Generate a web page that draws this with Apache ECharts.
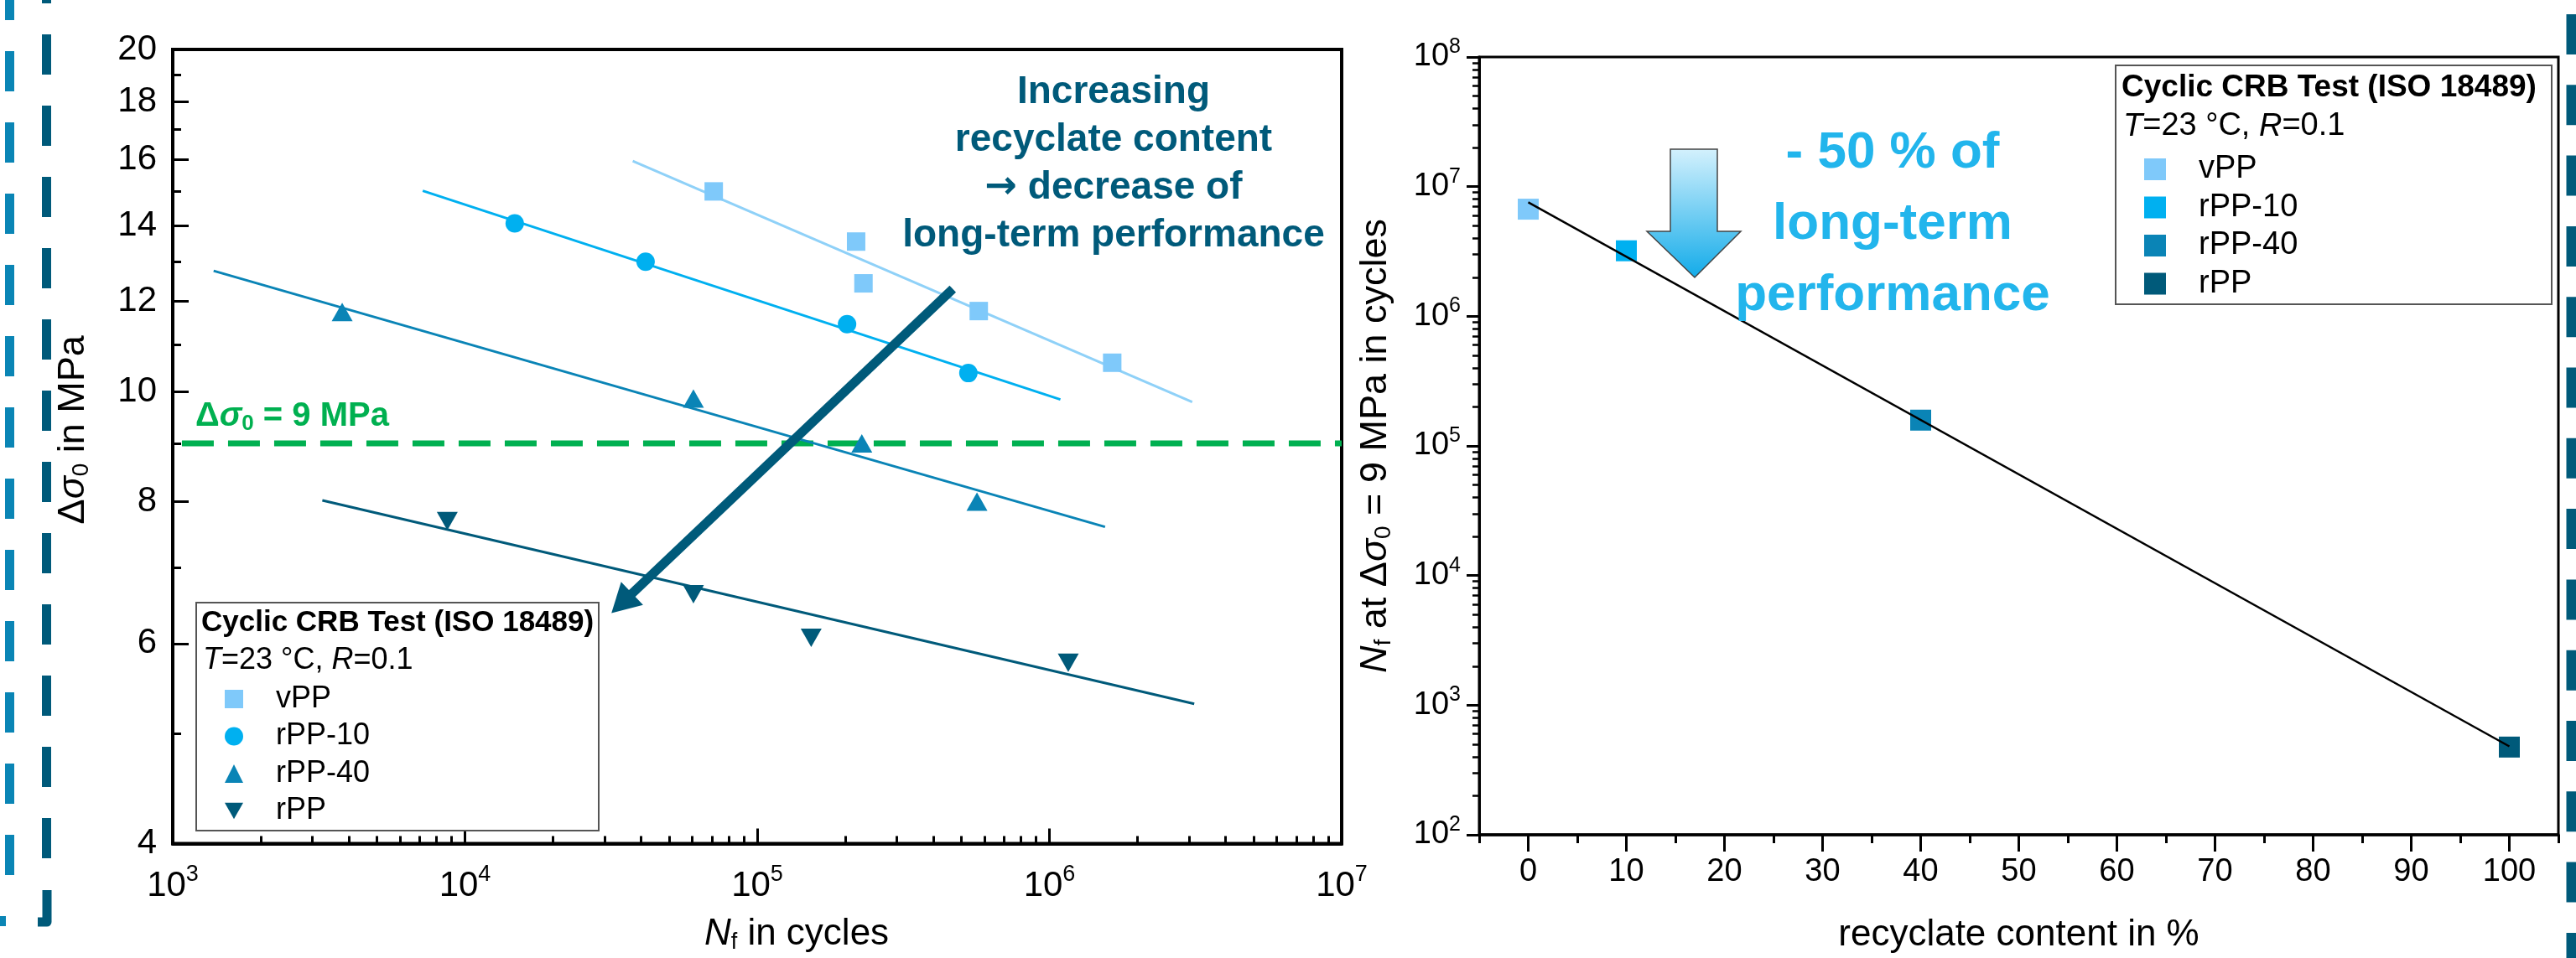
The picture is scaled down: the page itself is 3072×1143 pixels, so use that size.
<!DOCTYPE html>
<html><head><meta charset="utf-8">
<script src="https://cdn.jsdelivr.net/npm/echarts@6/dist/echarts.min.js"></script>
<style>html,body{margin:0;padding:0;background:#fff}#c{width:3072px;height:1143px}</style>
</head><body><div id="c"></div>
<script>
// ---------- DATA (left: S-N curves, log-log) ----------
const vppN   = [7.1e4, 2.18e5, 2.31e5, 5.73e5, 1.64e6];
const vppS   = [15.0, 13.55, 12.45, 11.77, 10.6];
const rpp10N = [1.48e4, 4.15e4, 2.03e5, 5.28e5];
const rpp10S = [14.06, 13.01, 11.46, 10.38];
const rpp40N = [3.8e3, 6.05e4, 2.28e5, 5.65e5];
const rpp40S = [11.75, 9.86, 9.0, 8.0];
const rppN   = [8.7e3, 6.05e4, 1.53e5, 1.16e6];
const rppS   = [7.69, 6.63, 6.07, 5.77];
// fitted lines (start / end)
const vppFitN   = [3.75e4, 3.08e6];  const vppFitS   = [15.95, 9.79];
const rpp10FitN = [7.17e3, 1.09e6];  const rpp10FitS = [15.02, 9.84];
const rpp40FitN = [1.38e3, 1.55e6];  const rpp40FitS = [12.77, 7.6];
const rppFitN   = [3.25e3, 3.13e6];  const rppFitS   = [8.02, 5.31];
const thresholdS = 9;
const thresholdN = [1.075e3, 1e7];
const trendArrowN = [4.67e5, 3.44e4];
const trendArrowS = [12.31, 6.51];
// ---------- DATA (right: Nf at 9 MPa vs recyclate content) ----------
const content = [0, 10, 40, 100];
const nfAt9   = [6.7e6, 3.2e6, 1.58e5, 475];
const fitContent = [0, 100];
const fitNf      = [7.56e6, 481];
// ---------- TICKS ----------
const leftXTicks  = [1e3, 1e4, 1e5, 1e6, 1e7];
const leftXMinor  = [2e3,3e3,4e3,5e3,6e3,7e3,8e3,9e3,2e4,3e4,4e4,5e4,6e4,7e4,8e4,9e4,2e5,3e5,4e5,5e5,6e5,7e5,8e5,9e5,2e6,3e6,4e6,5e6,6e6,7e6,8e6,9e6];
const leftYTicks  = [4, 6, 8, 10, 12, 14, 16, 18, 20];
const leftYMinor  = [5, 7, 9, 11, 13, 15, 17, 19];
const rightXTicks = [0, 10, 20, 30, 40, 50, 60, 70, 80, 90, 100];
const rightXMinor = [-5, 5, 15, 25, 35, 45, 55, 65, 75, 85, 95, 105];
const rightYTicks = [1e2, 1e3, 1e4, 1e5, 1e6, 1e7, 1e8];
const rightYMinor = [];
[1e2,1e3,1e4,1e5,1e6,1e7].forEach(d => { for (let k = 2; k <= 9; k++) rightYMinor.push(k * d); });
const seriesNames = ['vPP', 'rPP-10', 'rPP-40', 'rPP'];

// ---------- STYLE ----------
const F = 'Liberation Sans, Arial, Helvetica, sans-serif';
const L = Math.log10;
const C = { vPP: '#7fc9fa', vPPLine: '#8fd1f8', rPP10: '#00b0f0', rPP40: '#0a84b6', rPP: '#005a7a' };
const invTri = 'path://M0,0L10,0L5,8.8Z';
const pts = (xs, ys) => xs.map((x, i) => [L(x), L(ys[i])]);
const supRich = {
  b: { fontSize: 42, fontFamily: F, color: '#000' },
  s: { fontSize: 27, fontFamily: F, color: '#000', padding: [0, 0, 26, 0] }
};
const supRichR = {
  b: { fontSize: 38, fontFamily: F, color: '#000' },
  s: { fontSize: 25, fontFamily: F, color: '#000', padding: [0, 0, 24, 0] }
};
const nameRich = (fs) => ({
  d: { fontSize: fs, fontFamily: F, color: '#000' },
  i: { fontSize: fs, fontFamily: F, color: '#000', fontStyle: 'italic' },
  sub: { fontSize: Math.round(fs * 0.62), fontFamily: F, color: '#000', padding: [fs * 0.42, 0, 0, 0] }
});
const blackLine = (w) => ({ color: '#000', width: w });

const chart = echarts.init(document.getElementById('c'), null, { renderer: 'canvas' });

const option = {
  animation: false,
  backgroundColor: '#fff',
  grid: [
    { left: 206, top: 59, width: 1394, height: 958, show: true, borderColor: '#000', borderWidth: 4 },
    { left: 1764, top: 68, width: 1287, height: 939, show: true, borderColor: '#000', borderWidth: 3 }
  ],
  xAxis: [
    { gridIndex: 0, type: 'value', min: L(leftXTicks[0]), max: L(leftXTicks[4]), position: 'bottom',
      axisLine: { onZero: false, lineStyle: blackLine(4) },
      axisTick: { inside: true, length: 18, lineStyle: blackLine(3), customValues: leftXTicks.map(L) },
      axisLabel: { customValues: leftXTicks.map(L), margin: 24, formatter: v => '{b|10}{s|' + Math.round(v) + '}', rich: supRich },
      splitLine: { show: false },
      name: '{i|N}{sub|f}{d| in cycles}', nameLocation: 'middle', nameGap: 86,
      nameTextStyle: { rich: nameRich(44), padding: [0, 0, 0, 94] } },
    { gridIndex: 0, type: 'value', min: L(leftXTicks[0]), max: L(leftXTicks[4]), position: 'bottom',
      axisLine: { show: false, onZero: false },
      axisTick: { inside: true, length: 9, lineStyle: blackLine(3), customValues: leftXMinor.map(L) },
      axisLabel: { show: false }, splitLine: { show: false } },
    { gridIndex: 1, type: 'value', min: -5, max: 105, position: 'bottom',
      axisLine: { onZero: false, lineStyle: blackLine(3.5) },
      axisTick: { inside: false, length: 20, lineStyle: blackLine(3), customValues: rightXTicks },
      axisLabel: { customValues: rightXTicks, margin: 26, fontSize: 38, fontFamily: F, color: '#000' },
      splitLine: { show: false },
      name: 'recyclate content in %', nameLocation: 'middle', nameGap: 98,
      nameTextStyle: { fontSize: 44, fontFamily: F, color: '#000' } },
    { gridIndex: 1, type: 'value', min: -5, max: 105, position: 'bottom',
      axisLine: { show: false, onZero: false },
      axisTick: { inside: false, length: 10, lineStyle: blackLine(3), customValues: rightXMinor },
      axisLabel: { show: false }, splitLine: { show: false } }
  ],
  yAxis: [
    { gridIndex: 0, type: 'value', min: L(leftYTicks[0]), max: L(leftYTicks[8]), position: 'left',
      axisLine: { onZero: false, lineStyle: blackLine(4) },
      axisTick: { inside: true, length: 19, lineStyle: blackLine(3), customValues: leftYTicks.map(L) },
      axisLabel: { customValues: leftYTicks.map(L), margin: 19, fontSize: 42, fontFamily: F, color: '#000',
        formatter: v => String(Math.round(Math.pow(10, v))) },
      splitLine: { show: false },
      name: '{d|Δ}{i|σ}{sub|0}{d| in MPa}', nameLocation: 'middle', nameGap: 95, nameRotate: 90,
      nameTextStyle: { rich: nameRich(45), padding: [0, 0, 0, 40] } },
    { gridIndex: 0, type: 'value', min: L(leftYTicks[0]), max: L(leftYTicks[8]), position: 'left',
      axisLine: { show: false, onZero: false },
      axisTick: { inside: true, length: 10, lineStyle: blackLine(3), customValues: leftYMinor.map(L) },
      axisLabel: { show: false }, splitLine: { show: false } },
    { gridIndex: 1, type: 'value', min: L(rightYTicks[0]), max: L(rightYTicks[6]), position: 'left',
      axisLine: { onZero: false, lineStyle: blackLine(3) },
      axisTick: { inside: false, length: 15, lineStyle: blackLine(3), customValues: rightYTicks.map(L) },
      axisLabel: { customValues: rightYTicks.map(L), margin: 22, formatter: v => '{b|10}{s|' + Math.round(v) + '}', rich: supRichR },
      splitLine: { show: false },
      name: '{i|N}{sub|f}{d| at Δ}{i|σ}{sub|0}{d| = 9 MPa in cycles}', nameLocation: 'middle', nameGap: 100, nameRotate: 90,
      nameTextStyle: { rich: nameRich(45) } },
    { gridIndex: 1, type: 'value', min: L(rightYTicks[0]), max: L(rightYTicks[6]), position: 'left',
      axisLine: { show: false, onZero: false },
      axisTick: { inside: false, length: 8, lineStyle: blackLine(2.5), customValues: rightYMinor.map(L) },
      axisLabel: { show: false }, splitLine: { show: false } }
  ],
  legend: [
    { left: 268, top: 816, orient: 'vertical', padding: 0, itemWidth: 22, itemHeight: 22, itemGap: 8.5, selectedMode: false,
      data: [ { name: seriesNames[0], icon: 'rect' }, { name: seriesNames[1], icon: 'circle' },
              { name: seriesNames[2], icon: 'triangle' }, { name: seriesNames[3], icon: invTri } ],
      textStyle: { fontSize: 36, fontFamily: F, color: '#000', padding: [0, 0, 0, 34] } },
    { left: 2557, top: 183, orient: 'vertical', padding: 0, itemWidth: 26, itemHeight: 26, itemGap: 7.5, selectedMode: false,
      data: seriesNames.map(n => ({ name: n, icon: 'rect' })),
      textStyle: { fontSize: 38, fontFamily: F, color: '#000', padding: [0, 0, 0, 34] } }
  ],
  series: [
    // fit lines (left)
    { type: 'line', name: 'vPP fit', xAxisIndex: 0, yAxisIndex: 0, data: pts(vppFitN, vppFitS), symbol: 'none', lineStyle: { color: C.vPPLine, width: 3 }, z: 2, silent: true },
    { type: 'line', name: 'rPP-10 fit', xAxisIndex: 0, yAxisIndex: 0, data: pts(rpp10FitN, rpp10FitS), symbol: 'none', lineStyle: { color: C.rPP10, width: 3 }, z: 2, silent: true },
    { type: 'line', name: 'rPP-40 fit', xAxisIndex: 0, yAxisIndex: 0, data: pts(rpp40FitN, rpp40FitS), symbol: 'none', lineStyle: { color: C.rPP40, width: 3 }, z: 2, silent: true },
    { type: 'line', name: 'rPP fit', xAxisIndex: 0, yAxisIndex: 0, data: pts(rppFitN, rppFitS), symbol: 'none', lineStyle: { color: C.rPP, width: 3 }, z: 2, silent: true },
    // threshold dashed line
    { type: 'line', name: 'threshold', xAxisIndex: 0, yAxisIndex: 0, data: pts(thresholdN, [thresholdS, thresholdS]), symbol: 'none',
      lineStyle: { color: '#00b050', width: 7, type: [38, 17] }, z: 1, silent: true },
    // trend arrow
    { type: 'line', name: 'trend', xAxisIndex: 0, yAxisIndex: 0, data: [], silent: true, z: 5,
      markLine: { silent: true, animation: false, symbol: ['none', 'triangle'], symbolSize: [38, 34], label: { show: false },
        lineStyle: { color: '#005a7a', width: 11, type: 'solid' },
        data: [[ { coord: [L(trendArrowN[0]), L(trendArrowS[0])] }, { coord: [L(trendArrowN[1]), L(trendArrowS[1])] } ]] } },
    // scatter (left)
    { type: 'scatter', name: 'vPP', xAxisIndex: 0, yAxisIndex: 0, data: pts(vppN, vppS), symbol: 'rect', symbolSize: 22, itemStyle: { color: C.vPP, opacity: 1 }, z: 3 },
    { type: 'scatter', name: 'rPP-10', xAxisIndex: 0, yAxisIndex: 0, data: pts(rpp10N, rpp10S), symbol: 'circle', symbolSize: 22, itemStyle: { color: C.rPP10, opacity: 1 }, z: 3 },
    { type: 'scatter', name: 'rPP-40', xAxisIndex: 0, yAxisIndex: 0, data: pts(rpp40N, rpp40S), symbol: 'triangle', symbolSize: [25, 22], itemStyle: { color: C.rPP40, opacity: 1 }, z: 3 },
    { type: 'scatter', name: 'rPP', xAxisIndex: 0, yAxisIndex: 0, data: pts(rppN, rppS), symbol: invTri, symbolSize: [25, 22], itemStyle: { color: C.rPP, opacity: 1 }, z: 3 },
    // right
    { type: 'scatter', name: 'vPP', xAxisIndex: 2, yAxisIndex: 2, data: [[content[0], L(nfAt9[0])]], symbol: 'rect', symbolSize: 25, itemStyle: { color: C.vPP, opacity: 1 }, z: 3 },
    { type: 'scatter', name: 'rPP-10', xAxisIndex: 2, yAxisIndex: 2, data: [[content[1], L(nfAt9[1])]], symbol: 'rect', symbolSize: 25, itemStyle: { color: C.rPP10, opacity: 1 }, z: 3 },
    { type: 'scatter', name: 'rPP-40', xAxisIndex: 2, yAxisIndex: 2, data: [[content[2], L(nfAt9[2])]], symbol: 'rect', symbolSize: 25, itemStyle: { color: C.rPP40, opacity: 1 }, z: 3 },
    { type: 'scatter', name: 'rPP', xAxisIndex: 2, yAxisIndex: 2, data: [[content[3], L(nfAt9[3])]], symbol: 'rect', symbolSize: 25, itemStyle: { color: C.rPP, opacity: 1 }, z: 3 },
    { type: 'line', name: 'fit', xAxisIndex: 2, yAxisIndex: 2, data: fitContent.map((c, i) => [c, L(fitNf[i])]), symbol: 'none', lineStyle: { color: '#000', width: 2.5 }, z: 4, silent: true }
  ],
  graphic: [
    // slide decoration dashes
    { type: 'line', shape: { x1: 11.5, y1: -24, x2: 11.5, y2: 1045 }, style: { stroke: '#0a85b5', lineWidth: 11, lineDash: [48, 37] }, silent: true },
    { type: 'rect', shape: { x: 0, y: 1093, width: 7, height: 12 }, style: { fill: '#0a85b5' }, silent: true },
    { type: 'line', shape: { x1: 55.5, y1: -44, x2: 55.5, y2: 1025 }, style: { stroke: '#005a7a', lineWidth: 11, lineDash: [48, 37] }, silent: true },
    { type: 'polyline', shape: { points: [[56, 1062], [56, 1100], [45, 1100]] }, style: { stroke: '#005a7a', lineWidth: 11, lineJoin: 'round', fill: null }, silent: true },
    { type: 'line', shape: { x1: 3067, y1: 17, x2: 3067, y2: 1143 }, style: { stroke: '#005a7a', lineWidth: 13, lineDash: [48, 36.3] }, silent: true },
    // legend boxes
    { type: 'rect', shape: { x: 234, y: 719, width: 480, height: 272 }, style: { fill: '#fff', stroke: '#555', lineWidth: 2 }, z: 1 },
    { type: 'rect', shape: { x: 2523, y: 78, width: 520, height: 285 }, style: { fill: '#fff', stroke: '#555', lineWidth: 2 }, z: 1 },
    { type: 'text', x: 240, y: 743, z: 10, style: { text: 'Cyclic CRB Test (ISO 18489)', fontSize: 35, fontWeight: 'bold', fontFamily: F, fill: '#000', align: 'left', verticalAlign: 'middle' } },
    { type: 'text', x: 242, y: 788, z: 10, style: { text: '{i|T}{d|=23 °C, }{i|R}{d|=0.1}', align: 'left', verticalAlign: 'middle',
      rich: { i: { fontSize: 36, fontFamily: F, fontStyle: 'italic', fill: '#000' }, d: { fontSize: 36, fontFamily: F, fill: '#000' } } } },
    { type: 'text', x: 2530, y: 105, z: 10, style: { text: 'Cyclic CRB Test (ISO 18489)', fontSize: 37, fontWeight: 'bold', fontFamily: F, fill: '#000', align: 'left', verticalAlign: 'middle' } },
    { type: 'text', x: 2532, y: 151, z: 10, style: { text: '{i|T}{d|=23 °C, }{i|R}{d|=0.1}', align: 'left', verticalAlign: 'middle',
      rich: { i: { fontSize: 38, fontFamily: F, fontStyle: 'italic', fill: '#000' }, d: { fontSize: 38, fontFamily: F, fill: '#000' } } } },
    // left annotations
    { type: 'text', x: 1328, y: 196, z: 10, style: { text: '{t|Increasing}\n{t|recyclate content}\n{a|→}{t| decrease of}\n{t|long-term performance}',
      align: 'center', verticalAlign: 'middle',
      rich: { t: { fontSize: 46, lineHeight: 57, fontWeight: 'bold', fontFamily: F, fill: '#005a7a' },
              a: { fontSize: 46, lineHeight: 57, fontWeight: 'bold', fontFamily: 'DejaVu Sans', fill: '#005a7a' } } } },
    { type: 'text', x: 233, y: 497, z: 10, style: { text: '{d|Δ}{i|σ}{s|0}{d| = 9 MPa}', align: 'left', verticalAlign: 'middle',
      rich: { d: { fontSize: 40, fontWeight: 'bold', fontFamily: F, fill: '#00b050' },
              i: { fontSize: 40, fontWeight: 'bold', fontStyle: 'italic', fontFamily: F, fill: '#00b050' },
              s: { fontSize: 26, fontWeight: 'bold', fontFamily: F, fill: '#00b050', padding: [18, 0, 0, 0] } } } },
    // right annotations
    { type: 'polygon', z: 10, shape: { points: [[1992, 178], [2048, 178], [2048, 276], [2076, 276], [2021, 331], [1964, 276], [1992, 276]] },
      style: { fill: { type: 'linear', x: 0, y: 0, x2: 0, y2: 1, colorStops: [{ offset: 0, color: '#d4f1fd' }, { offset: 1, color: '#12abe9' }] },
               stroke: '#444', lineWidth: 1.5 } },
    { type: 'text', x: 2257, y: 268, z: 10, style: { text: '- 50 % of\nlong-term\nperformance',
      fontSize: 62, lineHeight: 85, fontWeight: 'bold', fontFamily: F, fill: '#22b5ec', align: 'center', verticalAlign: 'middle' } }
  ]
};
chart.setOption(option);
</script>
</body></html>
